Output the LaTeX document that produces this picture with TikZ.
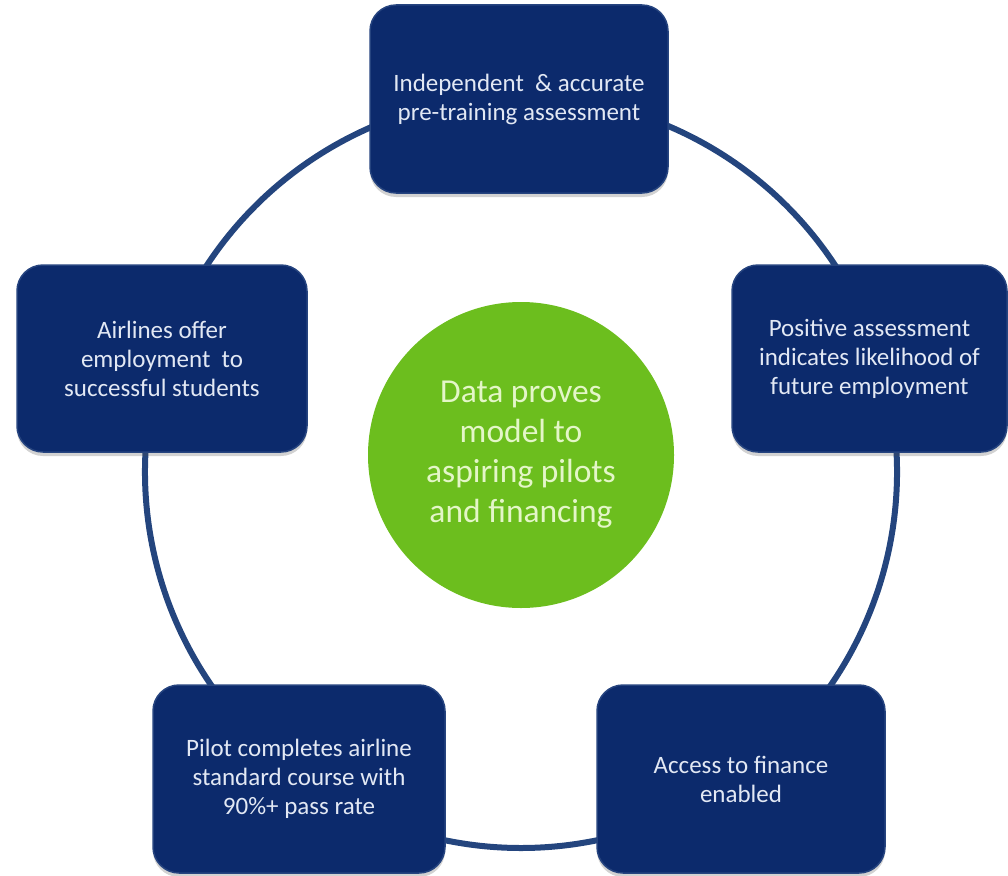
\documentclass[tikz,border=0pt]{standalone}
\usepackage{fontspec}
\setmainfont{Carlito}
\usetikzlibrary{shadows,backgrounds}

\definecolor{navy}{HTML}{0C2A6C}
\definecolor{navyrim}{HTML}{26447F}
\definecolor{ringblue}{HTML}{24457E}
\definecolor{boxtext}{HTML}{E2E8F4}
\definecolor{hubgreen}{HTML}{6CBE1E}
\definecolor{hubtext}{HTML}{E4F6C8}

\tikzset{
  stepbox/.style={rectangle, rounded corners=26pt, fill=navy, draw=navyrim,
    line width=1.5pt, text=boxtext, align=center, inner sep=0pt,
    font=\fontsize{25}{29}\selectfont,
    drop shadow={shadow xshift=0pt, shadow yshift=-4pt, opacity=0.25, fill=black!70}},
  hub/.style={circle, fill=hubgreen, text=hubtext, align=center,
    minimum size=306pt, inner sep=0pt, font=\fontsize{33.5}{40}\selectfont},
  cycleline/.style={draw=ringblue, line width=6pt}
}

\begin{document}
\begin{tikzpicture}[x=1pt, y=-1pt]
  \useasboundingbox (0,0) rectangle (1008,875);

  % centre of the cycle ring
  \coordinate (c) at (521,472);

  % the five stages
  \node[stepbox, minimum width=298pt, minimum height=188pt] (assess) at (519,99)
    {Independent \ \& accurate\\pre-training assessment};
  \node[stepbox, minimum width=275pt, minimum height=187pt] (positive) at (869.5,358.5)
    {Positive assessment\\indicates likelihood of\\future employment};
  \node[stepbox, minimum width=288pt, minimum height=188pt] (finance) at (741,779)
    {Access to finance\\enabled};
  \node[stepbox, minimum width=292pt, minimum height=188pt] (course) at (299,779)
    {Pilot completes airline\\standard course with\\90\%+ pass rate};
  \node[stepbox, minimum width=290pt, minimum height=187pt] (offer) at (162,358.5)
    {Airlines offer\\employment \ to\\successful students};

  % centre message
  \node[hub] (hub) at (521,455)
    {Data proves\\model to\\aspiring pilots\\and financing};

  % points where the ring passes under each stage (polar offsets in page units)
  \path (c) ++(90:376pt)   coordinate (assess-r);
  \path (c) ++(18:376pt)   coordinate (positive-r);
  \path (c) ++(-54:376pt)  coordinate (finance-r);
  \path (c) ++(-126:376pt) coordinate (course-r);
  \path (c) ++(162:376pt)  coordinate (offer-r);

  % ring segments linking the stages, behind the boxes
  \begin{scope}[on background layer]
    \draw[cycleline] (assess-r)   arc[start angle=90,   end angle=18,   radius=376pt];
    \draw[cycleline] (positive-r) arc[start angle=18,   end angle=-54,  radius=376pt];
    \draw[cycleline] (finance-r)  arc[start angle=-54,  end angle=-126, radius=376pt];
    \draw[cycleline] (course-r)   arc[start angle=-126, end angle=-198, radius=376pt];
    \draw[cycleline] (offer-r)    arc[start angle=162,  end angle=90,   radius=376pt];
  \end{scope}
\end{tikzpicture}
\end{document}
